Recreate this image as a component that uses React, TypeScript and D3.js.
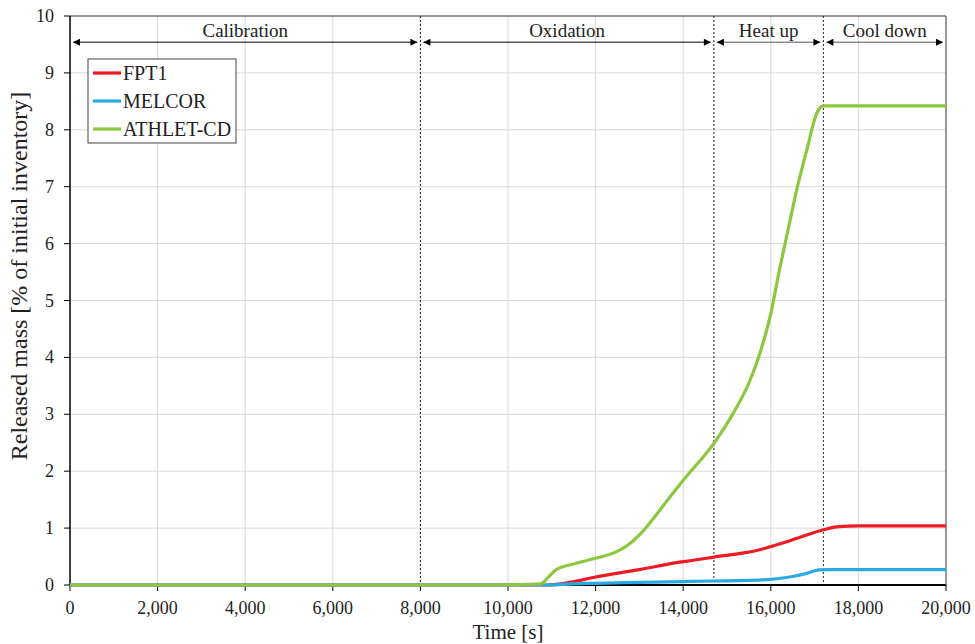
import React from 'react';
import * as d3 from 'd3';

// Time [s] / released mass [% of initial inventory]
const fpt1Time = [0, 10900, 11300, 12000, 13000, 14000, 14200, 14700, 15700, 16200, 16600, 17200, 17500, 18000, 20000];
const fpt1Mass = [0, 0, 0.03, 0.14, 0.27, 0.41, 0.43, 0.49, 0.61, 0.72, 0.82, 0.97, 1.02, 1.04, 1.04];

const melcorTime = [0, 10900, 11500, 12000, 13000, 14000, 14700, 15500, 16000, 16500, 16800, 17100, 17300, 20000];
const melcorMass = [0, 0, 0.02, 0.03, 0.045, 0.06, 0.07, 0.08, 0.1, 0.15, 0.2, 0.265, 0.27, 0.27];

const athletTime = [0, 9500, 10500, 10750, 10900, 11100, 11500, 12000, 12400, 12700, 13000, 13300, 13600, 14000, 14700, 15150, 15500, 15750, 16000, 16200, 16360, 16590, 16820, 17050, 17200, 20000];
const athletMass = [0, 0, 0.01, 0.02, 0.12, 0.27, 0.37, 0.47, 0.56, 0.68, 0.88, 1.15, 1.45, 1.84, 2.49, 3.03, 3.55, 4.07, 4.77, 5.55, 6.12, 6.94, 7.64, 8.29, 8.42, 8.42];

const phaseNames = ['Calibration', 'Oxidation', 'Heat up', 'Cool down'];
const phaseBounds = [0, 8000, 14700, 17200, 20000];

const xTicks = [0, 2000, 4000, 6000, 8000, 10000, 12000, 14000, 16000, 18000, 20000];
const yTicks = [0, 1, 2, 3, 4, 5, 6, 7, 8, 9, 10];

const seriesNames = ['FPT1', 'MELCOR', 'ATHLET-CD'];
const seriesColors = ['#ed1c24', '#29abe2', '#8dc63f'];

const width = 975;
const height = 644;
const margin = { top: 16, right: 29, bottom: 59, left: 70 };
const font = '"Liberation Serif", "Times New Roman", serif';

const App: React.FC = () => {
    const xScale = d3.scaleLinear().domain([0, 20000]).range([margin.left, width - margin.right]);
    const yScale = d3.scaleLinear().domain([0, 10]).range([height - margin.bottom, margin.top]);

    const line = d3
        .line<[number, number]>()
        .x((d) => xScale(d[0]))
        .y((d) => yScale(d[1]))
        .curve(d3.curveMonotoneX);

    const series = [
        d3.zip(fpt1Time, fpt1Mass) as [number, number][],
        d3.zip(melcorTime, melcorMass) as [number, number][],
        d3.zip(athletTime, athletMass) as [number, number][],
    ];

    const x0 = xScale(0);
    const x1 = xScale(20000);
    const y0 = yScale(0);
    const y1 = yScale(10);
    const arrowY = yScale(9.54);
    const labelY = yScale(9.63);

    return (
        <svg width={width} height={height} style={{ position: 'absolute', left: 0, top: 0 }} fontFamily={font}>
            <defs>
                <marker id="ah" viewBox="0 0 10 10" refX="10" refY="5" markerWidth="9" markerHeight="7" markerUnits="userSpaceOnUse" orient="auto-start-reverse">
                    <path d="M0,0 L10,5 L0,10 z" fill="#000" />
                </marker>
            </defs>
            <rect x={0} y={0} width={width} height={height} fill="#fff" />

            {/* grid */}
            {xTicks.slice(1, -1).map((t) => (
                <line key={'gx' + t} x1={xScale(t)} x2={xScale(t)} y1={y1} y2={y0} stroke="#d9d9d9" strokeWidth={1} />
            ))}
            {yTicks.slice(1, -1).map((t) => (
                <line key={'gy' + t} x1={x0} x2={x1} y1={yScale(t)} y2={yScale(t)} stroke="#d9d9d9" strokeWidth={1} />
            ))}

            {/* frame top/right */}
            <line x1={x0} x2={x1} y1={y1} y2={y1} stroke="#777" strokeWidth={1.5} />
            <line x1={x1} x2={x1} y1={y1} y2={y0} stroke="#777" strokeWidth={1.5} />

            {/* phase separators */}
            {phaseBounds.slice(1, -1).map((b) => (
                <line key={'ph' + b} x1={xScale(b)} x2={xScale(b)} y1={y1} y2={y0} stroke="#222" strokeWidth={1} strokeDasharray="2,2" />
            ))}

            {/* phase arrows and labels */}
            {phaseNames.map((name, i) => {
                const a = xScale(phaseBounds[i]);
                const b = xScale(phaseBounds[i + 1]);
                return (
                    <g key={name}>
                        <line x1={a + 3} x2={b - 3} y1={arrowY} y2={arrowY} stroke={i >= 2 ? '#555' : '#000'} strokeWidth={1}
                            markerStart="url(#ah)" markerEnd="url(#ah)" />
                        <text x={(a + b) / 2} y={labelY} textAnchor="middle" fontSize={19} fill="#222">{name}</text>
                    </g>
                );
            })}

            {/* axes */}
            <line x1={x0} x2={x1} y1={y0} y2={y0} stroke="#000" strokeWidth={2} />
            <line x1={x0} x2={x0} y1={y1} y2={y0} stroke="#000" strokeWidth={1.5} />
            {xTicks.map((t) => (
                <g key={'xt' + t}>
                    <line x1={xScale(t)} x2={xScale(t)} y1={y0} y2={y0 + 6} stroke="#000" strokeWidth={1} />
                    <text x={xScale(t)} y={y0 + 29} textAnchor="middle" fontSize={18} fill="#222">{d3.format(',')(t)}</text>
                </g>
            ))}
            {yTicks.map((t) => (
                <g key={'yt' + t}>
                    <line x1={x0 - 6} x2={x0} y1={yScale(t)} y2={yScale(t)} stroke="#000" strokeWidth={1} />
                    <text x={x0 - 16} y={yScale(t) + 6} textAnchor="end" fontSize={18} fill="#222">{t}</text>
                </g>
            ))}

            {/* series */}
            {series.map((s, i) => (
                <path key={seriesNames[i]} d={line(s) || ''} fill="none" stroke={seriesColors[i]} strokeWidth={3.2} strokeLinejoin="round" />
            ))}

            {/* legend */}
            <rect x={88} y={59} width={148} height={84} fill="#fff" stroke="#444" strokeWidth={1} />
            {seriesNames.map((n, i) => (
                <g key={'lg' + n}>
                    <line x1={93} x2={121} y1={73 + i * 28} y2={73 + i * 28} stroke={seriesColors[i]} strokeWidth={3.2} />
                    <text x={123} y={80 + i * 28} fontSize={20} fill="#222">{n}</text>
                </g>
            ))}

            {/* axis titles */}
            <text x={(x0 + x1) / 2} y={639} textAnchor="middle" fontSize={21} fill="#222">Time [s]</text>
            <text transform={`translate(27,276) rotate(-90)`} textAnchor="middle" fontSize={24} fill="#222">
                Released mass [% of initial inventory]
            </text>
        </svg>
    );
};

export default App;
